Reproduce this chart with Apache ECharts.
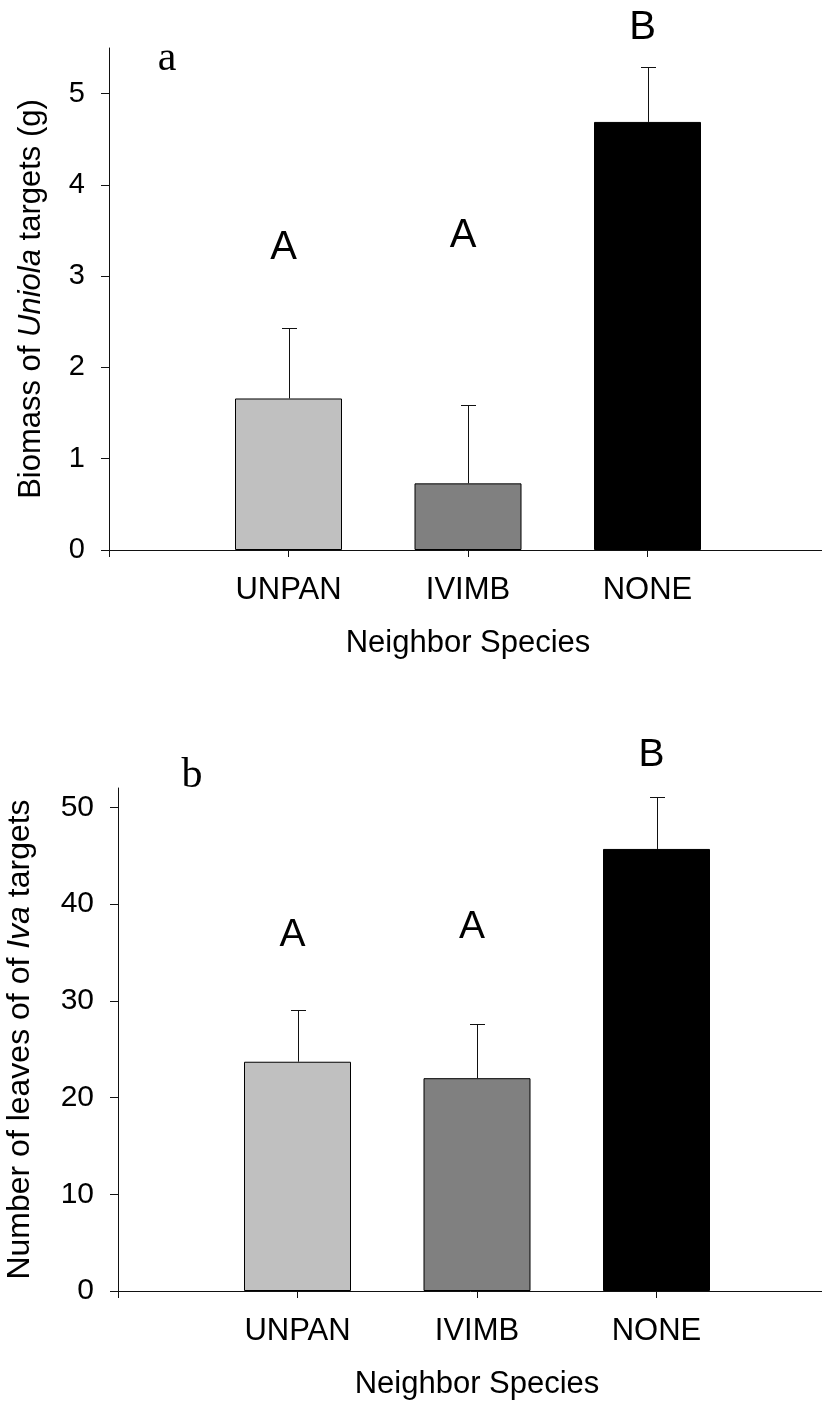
<!DOCTYPE html>
<html>
<head>
<meta charset="utf-8">
<script src="https://cdn.jsdelivr.net/npm/echarts@6/dist/echarts.min.js"></script>
<style>
html,body{margin:0;padding:0;background:#fff;}
#chart{width:822px;height:1408px;}
</style>
</head>
<body>
<div id="chart"></div>
<script>
// ---- data ----
const categories = ['UNPAN', 'IVIMB', 'NONE'];
// panel a: biomass of Uniola targets (g)
const uniolaMean = [1.66, 0.73, 4.69];
const uniolaSE = [0.77, 0.86, 0.60];
const uniolaLetters = ['A', 'A', 'B'];
const uniolaLetterY = [3.31, 3.44, 5.72];
const uniolaTicks = [0, 1, 2, 3, 4, 5];
// panel b: number of leaves of Iva targets
const ivaMean = [23.7, 22.0, 45.7];
const ivaSE = [5.4, 5.6, 5.4];
const ivaLetters = ['A', 'A', 'B'];
const ivaLetterY = [36.8, 37.6, 55.4];
const ivaTicks = [0, 10, 20, 30, 40, 50];

// ---- styles ----
const barColors = ['#c0c0c0', '#808080', '#000000'];
const SANS = '"Liberation Sans", Arial, sans-serif';
const SERIF = '"Liberation Serif", "Times New Roman", serif';
const axisData = [''].concat(categories, ['']);

function crisp(v) { return Math.round(v) + 0.5; }

function errRender(params, api) {
  const x = api.value(0), m = api.value(1), e = api.value(2);
  const p0 = api.coord([x, m]);
  const p1 = api.coord([x, m + e]);
  const cx = crisp(p0[0]);
  const ty = crisp(p1[1]);
  const st = { stroke: '#111', lineWidth: 1 };
  return {
    type: 'group',
    children: [
      { type: 'line', shape: { x1: cx, y1: p0[1], x2: cx, y2: ty }, style: st },
      { type: 'line', shape: { x1: cx - 7.5, y1: ty, x2: cx + 7.5, y2: ty }, style: st }
    ]
  };
}

function letterRender(letters, size) {
  return function (params, api) {
    const p = api.coord([api.value(0), api.value(1)]);
    return {
      type: 'text',
      x: p[0] - 5,
      y: p[1],
      style: {
        text: letters[params.dataIndex],
        font: size + 'px ' + SANS,
        fill: '#000',
        align: 'center',
        verticalAlign: 'middle'
      }
    };
  };
}

function xAxisCfg(gi, fs) {
  return {
    type: 'category', gridIndex: gi, data: axisData, boundaryGap: false,
    axisLine: { lineStyle: { color: '#111', width: 1 } },
    axisTick: { show: true, length: 7, lineStyle: { color: '#111' } },
    axisLabel: { color: '#000', fontFamily: SANS, fontSize: fs, margin: 25 },
    splitLine: { show: false },
    name: 'Neighbor Species', nameLocation: 'middle', nameGap: 78,
    nameTextStyle: { color: '#000', fontFamily: SANS, fontSize: fs }
  };
}

function yAxisCfg(gi, max, ticks, fs, name, nfs, gap) {
  return {
    type: 'value', gridIndex: gi, min: 0, max: max,
    axisLine: { show: true, lineStyle: { color: '#111', width: 1 } },
    axisTick: { show: true, length: 8, lineStyle: { color: '#111' }, customValues: ticks },
    axisLabel: { color: '#000', fontFamily: SANS, fontSize: fs, margin: 24, customValues: ticks },
    splitLine: { show: false },
    name: name, nameLocation: 'middle', nameRotate: 90, nameGap: gap,
    nameTextStyle: {
      color: '#000', fontFamily: SANS, fontSize: nfs,
      rich: { i: { fontStyle: 'italic', fontFamily: SANS, fontSize: nfs, color: '#000' } }
    }
  };
}

function barData(mean) {
  return mean.map((v, i) => ({
    value: [i + 1, v],
    itemStyle: { color: barColors[i], borderColor: '#000', borderWidth: 1 }
  }));
}

const option = {
  animation: false,
  backgroundColor: '#fff',
  grid: [
    { left: 109, top: 48, width: 718, height: 502, containLabel: false, outerBoundsMode: 'none' },
    { left: 118, top: 788, width: 718, height: 503, containLabel: false, outerBoundsMode: 'none' }
  ],
  xAxis: [xAxisCfg(0, 31), xAxisCfg(1, 31)],
  yAxis: [
    yAxisCfg(0, 5.5, uniolaTicks, 29, 'Biomass of {i|Uniola} targets (g)', 31, 62),
    yAxisCfg(1, 52, ivaTicks, 30, 'Number of leaves of of {i|Iva} targets', 32, 82)
  ],
  graphic: [
    { type: 'text', x: 167, y: 59, style: { text: 'a', font: '42px ' + SERIF, fill: '#000', align: 'center', verticalAlign: 'middle' } },
    { type: 'text', x: 192, y: 776, style: { text: 'b', font: '42px ' + SERIF, fill: '#000', align: 'center', verticalAlign: 'middle' } }
  ],
  series: [
    { type: 'bar', xAxisIndex: 0, yAxisIndex: 0, barWidth: 107, data: barData(uniolaMean), z: 2 },
    {
      type: 'custom', xAxisIndex: 0, yAxisIndex: 0, clip: false, z: 3,
      data: categories.map((c, i) => [i + 1, uniolaMean[i], uniolaSE[i]]),
      encode: { x: 0, y: 1 }, renderItem: errRender
    },
    {
      type: 'custom', xAxisIndex: 0, yAxisIndex: 0, clip: false, z: 3,
      data: categories.map((c, i) => [i + 1, uniolaLetterY[i]]),
      encode: { x: 0, y: 1 }, renderItem: letterRender(uniolaLetters, 40)
    },
    { type: 'bar', xAxisIndex: 1, yAxisIndex: 1, barWidth: 107, data: barData(ivaMean), z: 2 },
    {
      type: 'custom', xAxisIndex: 1, yAxisIndex: 1, clip: false, z: 3,
      data: categories.map((c, i) => [i + 1, ivaMean[i], ivaSE[i]]),
      encode: { x: 0, y: 1 }, renderItem: errRender
    },
    {
      type: 'custom', xAxisIndex: 1, yAxisIndex: 1, clip: false, z: 3,
      data: categories.map((c, i) => [i + 1, ivaLetterY[i]]),
      encode: { x: 0, y: 1 }, renderItem: letterRender(ivaLetters, 39)
    }
  ]
};

const chart = echarts.init(document.getElementById('chart'), null, { renderer: 'canvas' });
chart.setOption(option);
</script>
</body>
</html>
